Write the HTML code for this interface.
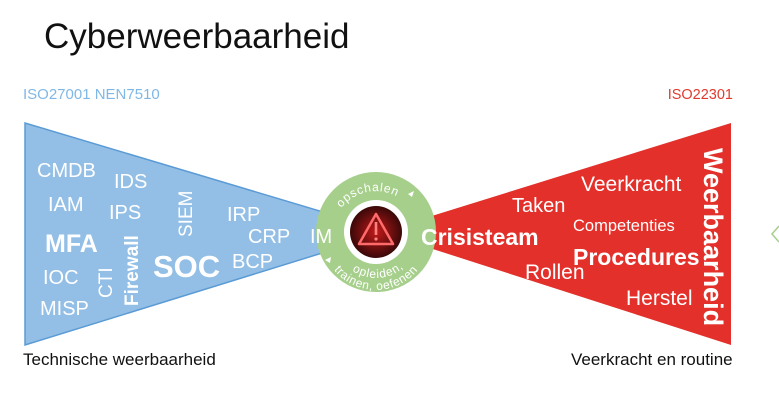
<!DOCTYPE html>
<html><head><meta charset="utf-8"><style>
html,body{margin:0;padding:0;background:#fff;width:779px;height:403px;overflow:hidden}
svg text{font-family:"Liberation Sans",sans-serif}
</style></head><body>
<svg width="779" height="403" viewBox="0 0 779 403" xmlns="http://www.w3.org/2000/svg">
<text x="44" y="48" font-size="35" fill="#111">Cyberweerbaarheid</text>
<text x="23" y="99" font-size="15" fill="#7fb8e6">ISO27001  NEN7510</text>
<text x="733" y="99" font-size="14.5" fill="#e03a2e" text-anchor="end">ISO22301</text>
<polygon points="25,123 25,345 390,232" fill="#93bfe6" stroke="#5b9bd5" stroke-width="1.5"/>
<polygon points="731,123 731,345 380,232" fill="#e3302a"/>
<circle cx="376" cy="232" r="60" fill="#a6cf8c"/>
<circle cx="376" cy="232" r="32" fill="#fff"/>
<defs>
<radialGradient id="g"><stop offset="0" stop-color="#c21a1a"/><stop offset="1" stop-color="#3a0808"/></radialGradient>
<path id="top" d="M 334,222 A 44,44 0 0 1 418,222"/>
<path id="b1" d="M 334,236 A 42,42 0 0 0 418,236"/>
<path id="b2" d="M 322,236 A 54,54 0 0 0 430,236"/>
</defs>
<circle cx="376" cy="232" r="26" fill="url(#g)"/>
<polygon points="376,214 393,244 359,244" fill="none" stroke="#ff6b6b" stroke-width="2.5" stroke-linejoin="round"/>
<rect x="374.7" y="222" width="2.6" height="13" fill="#ff8080"/>
<circle cx="376" cy="239" r="1.6" fill="#ff8080"/>
<text font-size="12" fill="#fff" letter-spacing="0.8"><textPath href="#top" startOffset="42%" text-anchor="middle">opschalen</textPath></text>
<polygon points="408,194 414,191 412,197" fill="#fff"/>
<polygon points="325,260 331,257 330,263" fill="#fff"/>
<text font-size="12" fill="#fff" letter-spacing="0.8"><textPath href="#b1" startOffset="52%" text-anchor="middle">opleiden,</textPath></text>
<text font-size="12" fill="#fff" letter-spacing="0.6"><textPath href="#b2" startOffset="50%" text-anchor="middle">trainen, oefenen</textPath></text>
<g fill="#fff" font-size="20">
<text x="37" y="177">CMDB</text>
<text x="114" y="188">IDS</text>
<text x="48" y="211">IAM</text>
<text x="109" y="219">IPS</text>
<text x="45" y="252" font-size="25" font-weight="bold">MFA</text>
<text x="43" y="284">IOC</text>
<text x="40" y="315">MISP</text>
<text transform="translate(112,298) rotate(-90)" font-size="19">CTI</text>
<text transform="translate(138,306) rotate(-90)" font-size="19" font-weight="bold">Firewall</text>
<text x="153" y="277" font-size="31" font-weight="bold">SOC</text>
<text transform="translate(192,237) rotate(-90)" font-size="19">SIEM</text>
<text x="227" y="221">IRP</text>
<text x="248" y="243">CRP</text>
<text x="232" y="268">BCP</text>
<text x="310" y="243">IM</text>
<text x="421" y="245" font-size="23" font-weight="bold">Crisisteam</text>
<text x="512" y="212" font-size="20">Taken</text>
<text x="581" y="191" font-size="21">Veerkracht</text>
<text x="573" y="231" font-size="16.5">Competenties</text>
<text x="573" y="265" font-size="23" font-weight="bold">Procedures</text>
<text x="525" y="279" font-size="21">Rollen</text>
<text x="626" y="305" font-size="21">Herstel</text>
<text transform="translate(704,148) rotate(90)" font-size="27" font-weight="bold">Weerbaarheid</text>
</g>
<text x="23" y="365" font-size="17" fill="#111">Technische weerbaarheid</text>
<text x="571" y="365" font-size="17" fill="#111">Veerkracht en routine</text>
<path d="M 779,226 L 772,234 L 779,242" fill="none" stroke="#a6cf8c" stroke-width="1.5"/>
</svg>
</body></html>
